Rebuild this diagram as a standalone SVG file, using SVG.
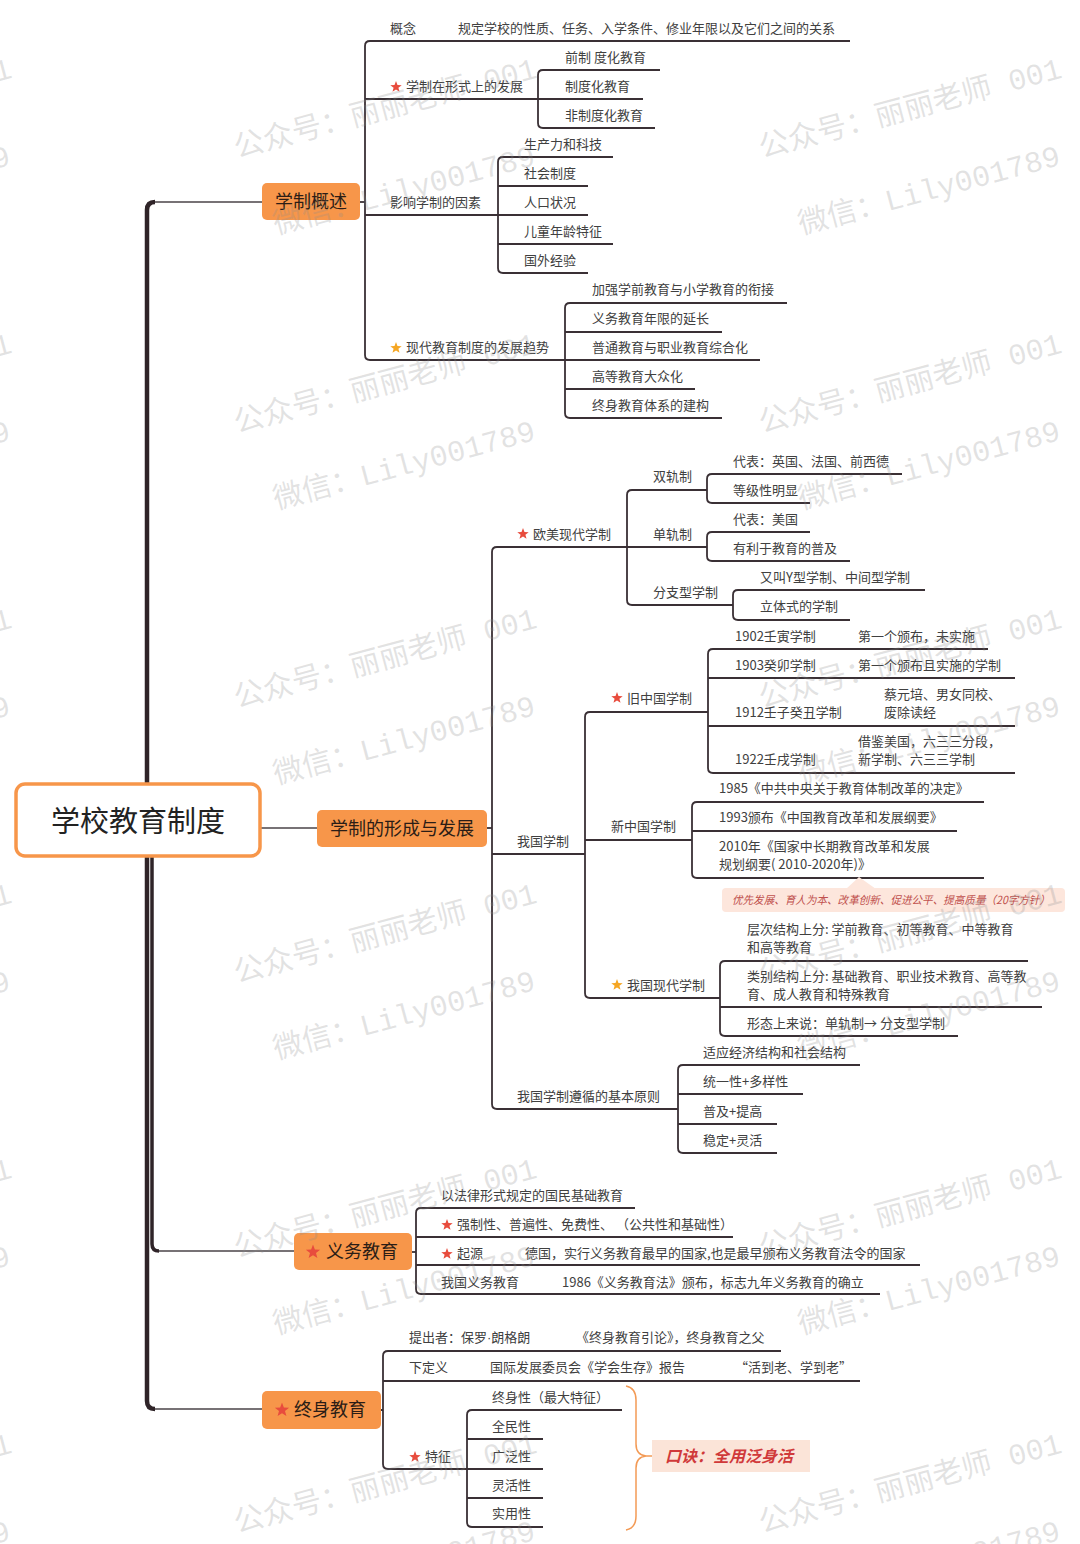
<svg xmlns="http://www.w3.org/2000/svg" width="1080" height="1544" viewBox="0 0 1080 1544">
<defs>
<style>
text{font-family:"Noto Sans CJK SC","Noto Sans",sans-serif;}
.t{font-size:13px;fill:#404040;}
.l1{font-size:18px;fill:#2b1d16;}
.root{font-size:29px;fill:#222222;}
.ln{fill:none;stroke:#3a3035;stroke-width:1.8;}
.thin{fill:none;stroke:#4a4347;stroke-width:1.3;}
.spine{fill:none;stroke:#2f2428;stroke-width:4.5;}
.nd{fill:#f7964a;}
.rs{fill:#e84c3d;}
.ys{fill:#f5a623;}
.wmt{font-size:30px;fill:#8c8c8c;fill-opacity:0.25;}
.mono{font-family:"Liberation Mono",monospace;}
.lat{font-family:"Liberation Sans",sans-serif;}
.note{font-size:11px;font-style:italic;fill:#c0504d;}
.kj{font-size:16px;font-weight:bold;font-style:italic;fill:#d0393a;}
</style>
<symbol id="star" viewBox="-1 -1 2 2"><polygon points="0,-1 0.247,-0.34 0.951,-0.309 0.399,0.13 0.588,0.809 0,0.42 -0.588,0.809 -0.399,0.13 -0.951,-0.309 -0.247,-0.34"/></symbol>
<g id="wm"><text class="wmt" x="0" y="0">公众号：丽丽老师<tspan class="mono"> 001</tspan></text><text class="wmt" x="18" y="84">微信：<tspan class="mono">Lily001789</tspan></text></g>
</defs>
<rect width="1080" height="1544" fill="#ffffff"/>

<g id="connectors">
  <path class="spine" d="M147 790 L147 210 Q147 202 155 202"/>
  <path class="thin" d="M155 202 L262 202"/>
  <path class="spine" d="M147 850 L147 1401 Q147 1409 155 1409"/>
  <path class="thin" d="M155 1409 L263 1409"/>
  <path class="spine" style="stroke-width:3.5" d="M152 850 L152 1244 Q152 1251 159 1251"/>
  <path class="thin" d="M159 1251 L294 1251"/>
  <path class="thin" d="M260 828 L317 828"/>

  <path class="ln" d="M360 202 L365 202"/>
  <path class="ln" d="M850 41 L370 41 Q365 41 365 46 L365 355 Q365 360 370 360 L760 360"/>
  <path class="ln" d="M365 99 L643 99"/>
  <path class="ln" d="M660 70 L543 70 Q538 70 538 75 L538 123 Q538 128 543 128 L655 128"/>
  <path class="ln" d="M365 215 L588 215"/>
  <path class="ln" d="M613 157 L503 157 Q498 157 498 162 L498 268 Q498 273 503 273 L588 273"/>
  <path class="ln" d="M498 186 L588 186 M498 244 L613 244"/>
  <path class="ln" d="M787 303 L570 303 Q565 303 565 308 L565 413 Q565 418 570 418 L722 418"/>
  <path class="ln" d="M565 332 L722 332 M565 389 L695 389"/>

  <path class="ln" d="M487 828 L492 828"/>
  <path class="ln" d="M707 547 L497 547 Q492 547 492 552 L492 1104 Q492 1109 497 1109 L678 1109"/>
  <path class="ln" d="M492 854 L585 854"/>
  <path class="ln" d="M707 490 L632 490 Q627 490 627 495 L627 600 Q627 605 632 605 L733 605"/>
  <path class="ln" d="M902 474 L712 474 Q707 474 707 479 L707 498 Q707 503 712 503 L810 503"/>
  <path class="ln" d="M810 532 L712 532 Q707 532 707 537 L707 556 Q707 561 712 561 L850 561"/>
  <path class="ln" d="M925 590 L738 590 Q733 590 733 595 L733 615 Q733 620 738 620 L850 620"/>
  <path class="ln" d="M708 712 L590 712 Q585 712 585 717 L585 993 Q585 998 590 998 L720 998"/>
  <path class="ln" d="M585 840 L692 840"/>
  <path class="ln" d="M988 649 L713 649 Q708 649 708 654 L708 768 Q708 773 713 773 L1015 773"/>
  <path class="ln" d="M708 678 L1015 678 M708 726 L1015 726"/>
  <path class="ln" d="M984 802 L697 802 Q692 802 692 807 L692 873 Q692 878 697 878 L984 878"/>
  <path class="ln" d="M692 831 L957 831"/>
  <path class="ln" d="M1028 961 L725 961 Q720 961 720 966 L720 1031 Q720 1036 725 1036 L958 1036"/>
  <path class="ln" d="M720 1007 L1042 1007"/>
  <path class="ln" d="M860 1065 L683 1065 Q678 1065 678 1070 L678 1148 Q678 1153 683 1153 L777 1153"/>
  <path class="ln" d="M678 1094 L803 1094 M678 1124 L777 1124"/>

  <path class="ln" d="M412 1252 L416 1252"/>
  <path class="ln" d="M635 1208 L421 1208 Q416 1208 416 1213 L416 1289 Q416 1294 421 1294 L880 1294"/>
  <path class="ln" d="M416 1237 L733 1237 M416 1265 L920 1265"/>

  <path class="ln" d="M381 1410 L383 1410"/>
  <path class="ln" d="M781 1351 L388 1351 Q383 1351 383 1356 L383 1464 Q383 1469 388 1469 L543 1469"/>
  <path class="ln" d="M383 1381 L860 1381"/>
  <path class="ln" d="M622 1410 L472 1410 Q467 1410 467 1415 L467 1522 Q467 1527 472 1527 L543 1527"/>
  <path class="ln" d="M467 1439 L543 1439 M467 1498 L543 1498"/>
  <path fill="none" stroke="#f39a55" stroke-width="1.5" d="M626 1386 Q636 1388 636 1400 L636 1444 Q636 1455 646 1456 Q636 1457 636 1468 L636 1516 Q636 1528 626 1530"/>
  <path fill="none" stroke="#f39a55" stroke-width="1.5" d="M646 1456 L652 1456"/>
</g>

<g id="root">
  <rect x="16" y="784" width="244" height="72" rx="9" fill="#ffffff" stroke="#f7964a" stroke-width="3.5"/>
  <text class="root" x="138" y="832" text-anchor="middle">学校教育制度</text>
</g>

<g id="n-xzgs">
  <rect class="nd" x="262" y="183" width="98" height="37" rx="5"/>
  <text class="l1" x="311" y="208" text-anchor="middle">学制概述</text>
</g>
<g id="n-gainian"><text class="t" x="390" y="33">概念</text><text class="t" x="458" y="33">规定学校的性质、任务、入学条件、修业年限以及它们之间的关系</text></g>
<g id="n-xingshi"><use href="#star" class="rs" x="390" y="81" width="12" height="12"/><text class="t" x="406" y="91">学制在形式上的发展</text></g>
<g id="n-qzd"><text class="t" x="565" y="62">前制 度化教育</text></g>
<g id="n-zdh"><text class="t" x="565" y="91">制度化教育</text></g>
<g id="n-fzd"><text class="t" x="565" y="120">非制度化教育</text></g>
<g id="n-yingxiang"><text class="t" x="390" y="207">影响学制的因素</text></g>
<g id="n-sc"><text class="t" x="524" y="149">生产力和科技</text></g>
<g id="n-sh"><text class="t" x="524" y="178">社会制度</text></g>
<g id="n-rk"><text class="t" x="524" y="207">人口状况</text></g>
<g id="n-et"><text class="t" x="524" y="236">儿童年龄特征</text></g>
<g id="n-gw"><text class="t" x="524" y="265">国外经验</text></g>
<g id="n-qushi"><use href="#star" class="ys" x="390" y="342" width="12" height="12"/><text class="t" x="406" y="352">现代教育制度的发展趋势</text></g>
<g id="n-qs1"><text class="t" x="592" y="294">加强学前教育与小学教育的衔接</text></g>
<g id="n-qs2"><text class="t" x="592" y="323">义务教育年限的延长</text></g>
<g id="n-qs3"><text class="t" x="592" y="352">普通教育与职业教育综合化</text></g>
<g id="n-qs4"><text class="t" x="592" y="381">高等教育大众化</text></g>
<g id="n-qs5"><text class="t" x="592" y="410">终身教育体系的建构</text></g>

<g id="n-xcfz">
  <rect class="nd" x="317" y="810" width="170" height="37" rx="5"/>
  <text class="l1" x="402" y="834.5" text-anchor="middle">学制的形成与发展</text>
</g>
<g id="n-oumei"><use href="#star" class="rs" x="517" y="528" width="12" height="12"/><text class="t" x="533" y="539">欧美现代学制</text></g>
<g id="n-sgz"><text class="t" x="653" y="481">双轨制</text></g>
<g id="n-sgz1"><text class="t" x="733" y="466">代表：英国、法国、前西德</text></g>
<g id="n-sgz2"><text class="t" x="733" y="495">等级性明显</text></g>
<g id="n-dgz"><text class="t" x="653" y="539">单轨制</text></g>
<g id="n-dgz1"><text class="t" x="733" y="524">代表：美国</text></g>
<g id="n-dgz2"><text class="t" x="733" y="553">有利于教育的普及</text></g>
<g id="n-fzx"><text class="t" x="653" y="597">分支型学制</text></g>
<g id="n-fzx1"><text class="t" x="760" y="582">又叫Y型学制、中间型学制</text></g>
<g id="n-fzx2"><text class="t" x="760" y="611">立体式的学制</text></g>
<g id="n-wgxz"><text class="t" x="517" y="846">我国学制</text></g>
<g id="n-jzg"><use href="#star" class="rs" x="611" y="692" width="12" height="12"/><text class="t" x="627" y="703">旧中国学制</text></g>
<g id="n-1902"><text class="t" x="735" y="641">1902壬寅学制</text><text class="t" x="858" y="641">第一个颁布，未实施</text></g>
<g id="n-1903"><text class="t" x="735" y="670">1903癸卯学制</text><text class="t" x="858" y="670">第一个颁布且实施的学制</text></g>
<g id="n-1912"><text class="t" x="735" y="717">1912壬子癸丑学制</text><text class="t" x="884" y="699">蔡元培、男女同校、</text><text class="t" x="884" y="717">废除读经</text></g>
<g id="n-1922"><text class="t" x="735" y="764">1922壬戌学制</text><text class="t" x="858" y="746">借鉴美国，六三三分段，</text><text class="t" x="858" y="764">新学制、六三三学制</text></g>
<g id="n-xzg"><text class="t" x="611" y="831">新中国学制</text></g>
<g id="n-1985"><text class="t" x="719" y="793">1985《中共中央关于教育体制改革的决定》</text></g>
<g id="n-1993"><text class="t" x="719" y="822">1993颁布《中国教育改革和发展纲要》</text></g>
<g id="n-2010"><text class="t" x="719" y="851">2010年《国家中长期教育改革和发展</text><text class="t" x="719" y="869">规划纲要( 2010-2020年)》</text></g>
<g id="n-callout">
  <polygon points="846,889 859,877 876,889" fill="#fde6dc"/>
  <rect x="722" y="888" width="343" height="24" rx="4" fill="#fde6dc"/>
  <text class="note" x="732" y="904" textLength="318" lengthAdjust="spacingAndGlyphs">优先发展、育人为本、改革创新、促进公平、提高质量（20字方针）</text>
</g>
<g id="n-xdxz"><use href="#star" class="ys" x="611" y="979" width="12" height="12"/><text class="t" x="627" y="990">我国现代学制</text></g>
<g id="n-xd1"><text class="t" x="747" y="934">层次结构上分: 学前教育、初等教育、中等教育</text><text class="t" x="747" y="952">和高等教育</text></g>
<g id="n-xd2"><text class="t" x="747" y="981">类别结构上分: 基础教育、职业技术教育、高等教</text><text class="t" x="747" y="999">育、成人教育和特殊教育</text></g>
<g id="n-xd3"><text class="t" x="747" y="1028">形态上来说：单轨制→ 分支型学制</text></g>
<g id="n-yuanze"><text class="t" x="517" y="1101">我国学制遵循的基本原则</text></g>
<g id="n-yz1"><text class="t" x="703" y="1057">适应经济结构和社会结构</text></g>
<g id="n-yz2"><text class="t" x="703" y="1086">统一性+多样性</text></g>
<g id="n-yz3"><text class="t" x="703" y="1116">普及+提高</text></g>
<g id="n-yz4"><text class="t" x="703" y="1145">稳定+灵活</text></g>

<g id="n-ywjy">
  <rect class="nd" x="294" y="1233" width="118" height="37" rx="5"/>
  <use href="#star" class="rs" x="305.5" y="1244.5" width="15" height="15"/>
  <text class="l1" x="326" y="1258">义务教育</text>
</g>
<g id="n-yw1"><text class="t" x="441" y="1200">以法律形式规定的国民基础教育</text></g>
<g id="n-yw2"><use href="#star" class="rs" x="441" y="1219" width="12" height="12"/><text class="t" x="457" y="1229">强制性、普遍性、免费性、 （公共性和基础性）</text></g>
<g id="n-yw3"><use href="#star" class="rs" x="441" y="1248" width="12" height="12"/><text class="t" x="457" y="1258">起源</text><text class="t" x="525" y="1258">德国，实行义务教育最早的国家,也是最早颁布义务教育法令的国家</text></g>
<g id="n-yw4"><text class="t" x="441" y="1287">我国义务教育</text><text class="t" x="562" y="1287">1986《义务教育法》颁布，标志九年义务教育的确立</text></g>

<g id="n-zsjy">
  <rect class="nd" x="262" y="1391" width="119" height="38" rx="5"/>
  <use href="#star" class="rs" x="274.5" y="1402.5" width="15" height="15"/>
  <text class="l1" x="294" y="1416">终身教育</text>
</g>
<g id="n-zs1"><text class="t" x="409" y="1342">提出者：保罗<tspan class="lat">·</tspan>朗格朗</text><text class="t" x="576" y="1342">《终身教育引论》，终身教育之父</text></g>
<g id="n-zs2"><text class="t" x="409" y="1372">下定义</text><text class="t" x="490" y="1372">国际发展委员会《学会生存》报告</text><text class="t" x="735" y="1372">“活到老、学到老”</text></g>
<g id="n-tz"><use href="#star" class="rs" x="409" y="1451" width="12" height="12"/><text class="t" x="425" y="1461">特征</text></g>
<g id="n-tz1"><text class="t" x="492" y="1402">终身性（最大特征）</text></g>
<g id="n-tz2"><text class="t" x="492" y="1431">全民性</text></g>
<g id="n-tz3"><text class="t" x="492" y="1461">广泛性</text></g>
<g id="n-tz4"><text class="t" x="492" y="1490">灵活性</text></g>
<g id="n-tz5"><text class="t" x="492" y="1518">实用性</text></g>
<g id="n-koujue">
  <rect x="652" y="1440" width="158" height="32" fill="#fbe4d8"/>
  <text class="kj" x="665" y="1462">口诀：全用泛身活</text>
</g>

<g id="watermark">
  <use href="#wm" transform="translate(-288 158) rotate(-15)"/>
  <use href="#wm" transform="translate(237 158) rotate(-15)"/>
  <use href="#wm" transform="translate(762 158) rotate(-15)"/>
  <use href="#wm" transform="translate(-288 433) rotate(-15)"/>
  <use href="#wm" transform="translate(237 433) rotate(-15)"/>
  <use href="#wm" transform="translate(762 433) rotate(-15)"/>
  <use href="#wm" transform="translate(-288 708) rotate(-15)"/>
  <use href="#wm" transform="translate(237 708) rotate(-15)"/>
  <use href="#wm" transform="translate(762 708) rotate(-15)"/>
  <use href="#wm" transform="translate(-288 983) rotate(-15)"/>
  <use href="#wm" transform="translate(237 983) rotate(-15)"/>
  <use href="#wm" transform="translate(762 983) rotate(-15)"/>
  <use href="#wm" transform="translate(-288 1258) rotate(-15)"/>
  <use href="#wm" transform="translate(237 1258) rotate(-15)"/>
  <use href="#wm" transform="translate(762 1258) rotate(-15)"/>
  <use href="#wm" transform="translate(-288 1533) rotate(-15)"/>
  <use href="#wm" transform="translate(237 1533) rotate(-15)"/>
  <use href="#wm" transform="translate(762 1533) rotate(-15)"/>
</g>
</svg>
